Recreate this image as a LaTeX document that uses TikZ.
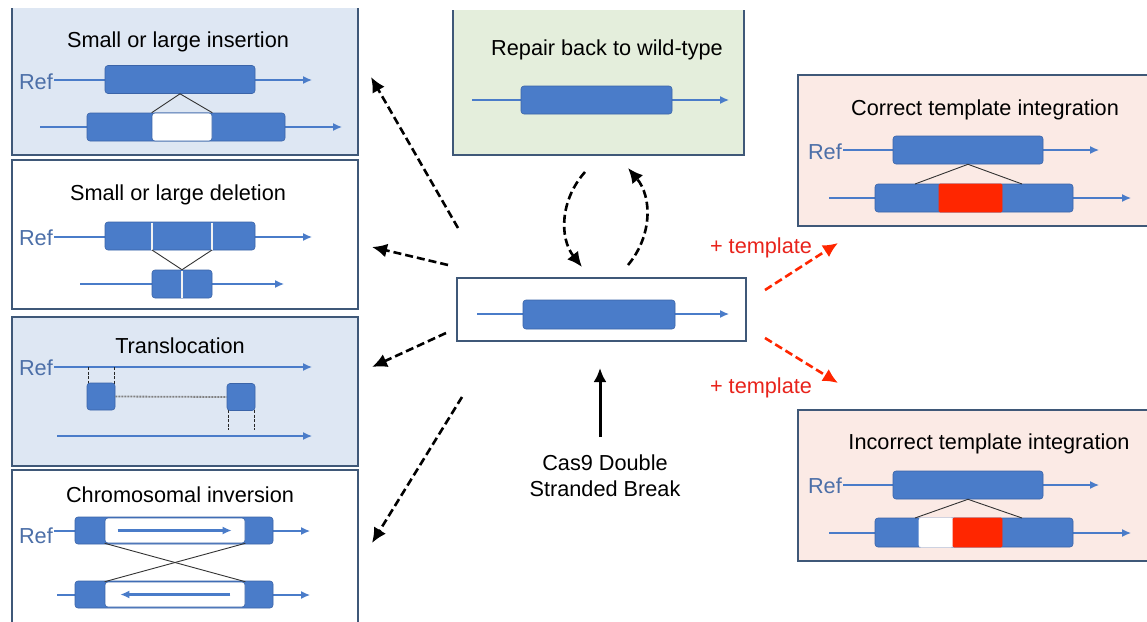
\documentclass[tikz,border=0pt]{standalone}
\usepackage{fontspec}
\setmainfont{Liberation Sans}
\usetikzlibrary{arrows.meta, positioning, calc}

\definecolor{geneblue}{HTML}{4A7CC9}
\definecolor{genedark}{HTML}{3B64A8}
\definecolor{panelline}{HTML}{3F5878}
\definecolor{refblue}{HTML}{4C6FA8}
\definecolor{mutfill}{HTML}{DEE7F3}
\definecolor{wtfill}{HTML}{E4EEDC}
\definecolor{tplfill}{HTML}{FBEAE5}
\definecolor{insred}{HTML}{FF2600}
\definecolor{tplred}{HTML}{E8231B}

\tikzset{
  panel/.style={draw=panelline, line width=1.4pt},
  gene/.style={rectangle, fill=geneblue, draw=genedark, line width=0.6pt,
    rounded corners=3pt, inner sep=0pt, minimum height=28pt},
  strand/.style={draw=geneblue, line width=1.3pt, -{Latex[length=9pt, width=8pt]}},
  link/.style={draw=black!80, line width=0.9pt},
  cut/.style={draw=white!90!gray, line width=1.8pt},
  breakline/.style={draw=black!85, line width=1pt, dash pattern=on 3pt off 1.5pt},
  joinline/.style={draw=gray, line width=1.8pt, dash pattern=on 2pt off 1pt},
  flow/.style={draw=black, line width=2.6pt, dash pattern=on 8pt off 4pt,
    -{Latex[length=15pt, width=14pt]}},
  tplflow/.style={flow, draw=insred, -{Latex[length=15pt, width=14pt, fill=insred]}},
  reflabel/.style={anchor=base east, text=refblue, inner sep=1pt},
  hub/.style={rectangle, draw=panelline, line width=1.4pt, fill=white,
    minimum width=289pt, minimum height=63pt},
}

\begin{document}
\begin{tikzpicture}[x=1pt, y=-1pt, font=\fontsize{21.7}{26}\selectfont]
        \useasboundingbox (0,0) rectangle (1147,621);

        % Insertion
        \fill[mutfill] (12,8) rectangle (358,155);
        \draw[panel] (12,8) -- (12,155) -- (358,155) -- (358,8);
        \node[anchor=base] (institle) at (178,47) {Small or large insertion};
        \node[reflabel] (insref) at (54,89) {Ref};
        \coordinate (insrefend) at (312,80);
        \coordinate (inslow) at (40,127);
        \coordinate (inslowend) at (342,127);
        \draw[strand] (insref.east |- insrefend) -- (insrefend);
        \draw[strand] (inslow) -- (inslowend);
        \node[gene, minimum width=150pt] (insgene) at (180,79.5) {};
        \node[gene, minimum width=198pt] (inslong) at (186,127) {};
        \node[gene, fill=white, minimum width=60pt] (insnew) at (182,127) {};
        \draw[link] (insgene.south) -- (insnew.north west);
        \draw[link] (insgene.south) -- (insnew.north east);

        % Deletion
        \draw[panel, fill=white] (12,160) rectangle (358,309);
        \node[anchor=base] (deltitle) at (178,200) {Small or large deletion};
        \node[reflabel] (delref) at (54,245) {Ref};
        \coordinate (delrefend) at (312,237);
        \coordinate (dellow) at (80,284);
        \coordinate (dellowend) at (284,284);
        \draw[strand] (delref.east |- delrefend) -- (delrefend);
        \draw[strand] (dellow) -- (dellowend);
        \node[gene, minimum width=150pt] (delgene) at (180,236) {};
        \node[gene, minimum width=60pt] (delshort) at (182,284) {};
        \foreach \x in {152,212} { \draw[cut] (\x,222.5) -- (\x,249.5); }
        \draw[cut] (182,270.5) -- (182,297.5);
        \coordinate (delcutL) at (152,250);
        \coordinate (delcutR) at (212,250);
        \draw[link] (delcutL) -- (delshort.north);
        \draw[link] (delcutR) -- (delshort.north);

        % Translocation
        \fill[mutfill] (12,317) rectangle (358,466);
        \draw[panel] (12,317) rectangle (358,466);
        \node[anchor=base] (tratitle) at (180,353) {Translocation};
        \node[reflabel] (traref) at (54,375) {Ref};
        \coordinate (trarefend) at (312,367);
        \coordinate (tralow) at (57,436);
        \coordinate (tralowend) at (312,436);
        \draw[strand] (traref.east |- trarefend) -- (trarefend);
        \draw[strand] (tralow) -- (tralowend);
        \foreach \x in {88,114} { \draw[breakline] (\x,367) -- (\x,384); }
        \foreach \x in {228,254} { \draw[breakline] (\x,410) -- (\x,430); }
        \node[gene, minimum width=28pt, minimum height=27pt] (trapiece) at (101,396.5) {};
        \node[gene, minimum width=28pt, minimum height=27pt] (traplace) at (241,397) {};
        \draw[joinline] (trapiece.east) -- (traplace.west);

        % Inversion
        \draw[panel, fill=white] (12,470) rectangle (358,630);
        \node[anchor=base] (invtitle) at (180,502) {Chromosomal inversion};
        \node[reflabel] (invref) at (54,543) {Ref};
        \coordinate (invrefend) at (310,531);
        \coordinate (invlow) at (57,595);
        \coordinate (invlowend) at (310,595);
        \draw[strand] (invref.east |- invrefend) -- (invrefend);
        \draw[strand] (invlow) -- (invlowend);
        \node[gene, minimum width=198pt, minimum height=27pt] (invtop) at (174,530.5) {};
        \node[gene, fill=white, minimum width=140pt, minimum height=25pt] (invtopin) at (175,530.5) {};
        \node[gene, minimum width=198pt, minimum height=27pt] (invbot) at (174,594.5) {};
        \node[gene, fill=white, minimum width=140pt, minimum height=25pt] (invbotin) at (175,594.5) {};
        \draw[strand, line width=2.4pt] (invtopin.west) ++(13,0) -- ++(114,0);
        \draw[strand, line width=2.4pt] (invbotin.east) ++(-15,0) -- ++(-110,0);
        \draw[link] (invtopin.south west) -- (invbotin.north east);
        \draw[link] (invtopin.south east) -- (invbotin.north west);

        % Repair back to wild-type
        \fill[wtfill] (453,10) rectangle (744,155);
        \draw[panel] (453,10) -- (453,155) -- (744,155) -- (744,10);
        \node[anchor=base] (wttitle) at (607,55) {Repair back to wild-type};
        \coordinate (wtstart) at (472,100);
        \coordinate (wtend) at (729,100);
        \draw[strand] (wtstart) -- (wtend);
        \node[gene, minimum width=151pt] (wtgene) at (596.5,100) {};

        % Broken strand
        \node[hub] (dsb) at (601.5,309.5) {};
        \coordinate (dsbstart) at (477,314);
        \coordinate (dsbend) at (729,314);
        \draw[strand] (dsbstart) -- (dsbend);
        \node[gene, minimum width=152pt, minimum height=29pt] (dsbgene) at (599,314.5) {};

        % Cas9 cut
        \node[anchor=north, align=center, inner sep=0pt] (cas) at (605,455)
            {Cas9 Double\\Stranded Break};
        \coordinate (castail) at (600,437);
        \coordinate (castip) at (600,368);
        \draw[line width=3pt, -{Latex[length=14pt, width=13pt]}] (castail) -- (castip);

        % Repair loop
        \coordinate (wtout) at (585,172);
        \coordinate (dsbin) at (582,267);
        \coordinate (dsbout) at (628,265);
        \coordinate (wtin) at (628,168);
        \draw[flow] (wtout) to[bend right=40] (dsbin);
        \draw[flow] (dsbout) to[bend right=40] (wtin);

        % Outcomes without template
        \coordinate (insfrom) at (458,228);
        \coordinate (insto) at (371,77);
        \coordinate (delfrom) at (448,265);
        \coordinate (delto) at (372,247);
        \coordinate (trafrom) at (446,333);
        \coordinate (trato) at (372,367);
        \coordinate (invfrom) at (462,397);
        \coordinate (invto) at (372,543);
        \draw[flow] (insfrom) -- (insto);
        \draw[flow] (delfrom) -- (delto);
        \draw[flow] (trafrom) -- (trato);
        \draw[flow] (invfrom) -- (invto);

        % Outcomes with template
        \coordinate (corfrom) at (765,290);
        \coordinate (corto) at (838,243);
        \coordinate (incfrom) at (765,338);
        \coordinate (incto) at (838,383);
        \draw[tplflow] (corfrom) -- (corto);
        \draw[tplflow] (incfrom) -- (incto);
        \node[anchor=base, text=tplred] (cortpl) at (761,253) {+ template};
        \node[anchor=base, text=tplred] (inctpl) at (761,393) {+ template};

        % Correct template integration
        \fill[tplfill] (798,75) rectangle (1152,226);
        \draw[panel] (798,75) rectangle (1152,226);
        \node[anchor=base] (cortitle) at (985,115) {Correct template integration};
        \node[reflabel] (corref) at (843,159) {Ref};
        \coordinate (correfend) at (1099,150);
        \coordinate (corlow) at (829,198);
        \coordinate (corlowend) at (1131,198);
        \draw[strand] (corref.east |- correfend) -- (correfend);
        \draw[strand] (corlow) -- (corlowend);
        \node[gene, minimum width=150pt] (corgene) at (968,150) {};
        \node[gene, minimum width=198pt] (corlong) at (974,198) {};
        \node[gene, fill=insred, draw=insred, rounded corners=1pt, minimum width=63pt] (cornew) at (970.5,198) {};
        \coordinate (corL) at (915,184);
        \coordinate (corR) at (1022,184);
        \draw[link] (corgene.south) -- (corL);
        \draw[link] (corgene.south) -- (corR);

        % Incorrect template integration
        \fill[tplfill] (798,410) rectangle (1152,561);
        \draw[panel] (798,410) rectangle (1152,561);
        \node[anchor=base] (inctitle) at (989,449) {Incorrect template integration};
        \node[reflabel] (incref) at (843,493) {Ref};
        \coordinate (increfend) at (1099,485);
        \coordinate (inclow) at (829,533);
        \coordinate (inclowend) at (1131,533);
        \draw[strand] (incref.east |- increfend) -- (increfend);
        \draw[strand] (inclow) -- (inclowend);
        \node[gene, minimum width=150pt] (incgene) at (968,485) {};
        \node[gene, minimum width=198pt, minimum height=29pt] (inclong) at (974,532.5) {};
        \node[gene, fill=white, draw=white, rounded corners=2pt, minimum width=34pt, minimum height=29pt] (incgap) at (936,532.5) {};
        \node[gene, fill=insred, draw=insred, rounded corners=1pt, minimum width=49pt, minimum height=29pt] (incnew) at (977.5,532.5) {};
        \coordinate (incL) at (915,518);
        \coordinate (incR) at (1022,518);
        \draw[link] (incgene.south) -- (incL);
        \draw[link] (incgene.south) -- (incR);
\end{tikzpicture}
\end{document}
